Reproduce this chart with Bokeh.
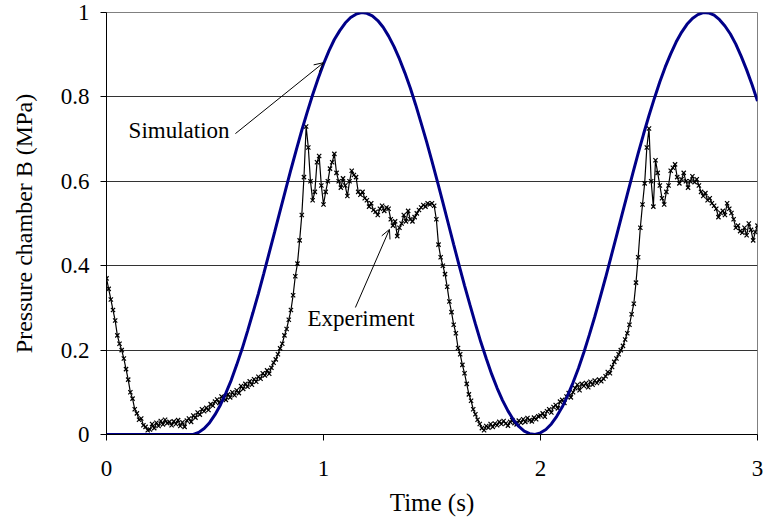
import numpy as np
from bokeh.plotting import figure
from bokeh.models import Range1d, Label, Arrow, OpenHead, FixedTicker, ColumnDataSource
from bokeh.embed import file_html
from bokeh.resources import INLINE

# Simulated chamber-B pressure (MPa), sampled every 0.025 s from 0 to 3 s
sim_pressure = [
    0.0, 0.0, 0.0, 0.0, 0.0, 0.0, 0.0, 0.0,
    0.0, 0.0, 0.0, 0.0, 0.0, 0.0, 0.0, 0.0,
    0.0, 0.005, 0.014, 0.028, 0.047, 0.070, 0.098, 0.129,
    0.165, 0.203, 0.245, 0.289, 0.334, 0.382, 0.431, 0.480,
    0.530, 0.579, 0.628, 0.675, 0.721, 0.764, 0.805, 0.843,
    0.878, 0.909, 0.936, 0.957, 0.975, 0.988, 0.996, 1.000,
    0.998, 0.992, 0.981, 0.965, 0.944, 0.919, 0.890, 0.857,
    0.821, 0.781, 0.738, 0.694, 0.647, 0.599, 0.550, 0.500,
    0.450, 0.401, 0.353, 0.307, 0.262, 0.219, 0.180, 0.143,
    0.110, 0.081, 0.056, 0.035, 0.019, 0.008, 0.002, 0.000,
    0.004, 0.012, 0.025, 0.043, 0.065, 0.092, 0.123, 0.157,
    0.195, 0.236, 0.279, 0.325, 0.372, 0.421, 0.470, 0.520,
    0.569, 0.618, 0.666, 0.712, 0.756, 0.797, 0.836, 0.871,
    0.902, 0.930, 0.953, 0.972, 0.986, 0.995, 1.000, 0.999,
    0.994, 0.983, 0.968, 0.949, 0.925, 0.896, 0.864, 0.829,
    0.790,
]
sim_time = np.linspace(0.0, 3.0, len(sim_pressure))

# Measured chamber-B pressure (MPa), sampled every 0.01 s from 0 to 3 s
exp_pressure = [
    0.370, 0.345, 0.320, 0.295, 0.270, 0.235, 0.215, 0.200, 0.180, 0.155,
    0.130, 0.100, 0.085, 0.060, 0.050, 0.035, 0.038, 0.022, 0.018, 0.010,
    0.012, 0.025, 0.015, 0.028, 0.020, 0.032, 0.024, 0.035, 0.027, 0.030,
    0.022, 0.031, 0.025, 0.034, 0.020, 0.029, 0.018, 0.033, 0.038, 0.030,
    0.045, 0.040, 0.052, 0.047, 0.060, 0.055, 0.063, 0.058, 0.072, 0.068,
    0.078, 0.083, 0.075, 0.090, 0.086, 0.082, 0.095, 0.088, 0.100, 0.093,
    0.105, 0.098, 0.115, 0.108, 0.120, 0.113, 0.126, 0.118, 0.131, 0.125,
    0.137, 0.132, 0.145, 0.140, 0.152, 0.144, 0.158, 0.170, 0.178, 0.190,
    0.204, 0.215, 0.235, 0.250, 0.272, 0.295, 0.330, 0.375, 0.405, 0.460,
    0.520, 0.610, 0.730, 0.680, 0.600, 0.555, 0.575, 0.645, 0.660, 0.590,
    0.545, 0.575, 0.600, 0.630, 0.645, 0.665, 0.620, 0.600, 0.585, 0.607,
    0.590, 0.565, 0.600, 0.625, 0.615, 0.610, 0.575, 0.568, 0.575, 0.560,
    0.555, 0.540, 0.548, 0.532, 0.528, 0.520, 0.535, 0.542, 0.530, 0.538,
    0.535, 0.510, 0.495, 0.505, 0.470, 0.490, 0.500, 0.520, 0.505, 0.530,
    0.510, 0.505, 0.515, 0.524, 0.532, 0.538, 0.544, 0.540, 0.548, 0.545,
    0.548, 0.542, 0.510, 0.450, 0.420, 0.400, 0.380, 0.350, 0.315, 0.290,
    0.260, 0.240, 0.205, 0.190, 0.165, 0.145, 0.120, 0.095, 0.080, 0.060,
    0.048, 0.035, 0.025, 0.015, 0.010, 0.020, 0.016, 0.025, 0.018, 0.026,
    0.022, 0.030, 0.025, 0.032, 0.026, 0.021, 0.030, 0.034, 0.027, 0.024,
    0.033, 0.028, 0.036, 0.030, 0.039, 0.034, 0.031, 0.040, 0.036, 0.043,
    0.045, 0.050, 0.042, 0.055, 0.060, 0.052, 0.065, 0.070, 0.062, 0.078,
    0.082, 0.075, 0.090, 0.098, 0.088, 0.100, 0.110, 0.118, 0.105, 0.120,
    0.115, 0.122, 0.112, 0.125, 0.118, 0.128, 0.122, 0.130, 0.126, 0.132,
    0.138, 0.148, 0.145, 0.160, 0.172, 0.180, 0.190, 0.200, 0.210, 0.225,
    0.240, 0.260, 0.285, 0.310, 0.360, 0.420, 0.490, 0.545, 0.595, 0.680,
    0.725, 0.600, 0.540, 0.650, 0.620, 0.590, 0.560, 0.545, 0.575, 0.590,
    0.625, 0.632, 0.640, 0.610, 0.595, 0.605, 0.620, 0.600, 0.585, 0.600,
    0.612, 0.598, 0.605, 0.590, 0.575, 0.565, 0.572, 0.555, 0.560, 0.548,
    0.542, 0.535, 0.515, 0.525, 0.530, 0.520, 0.548, 0.535, 0.525, 0.510,
    0.490, 0.495, 0.482, 0.478, 0.490, 0.472, 0.500, 0.485, 0.460, 0.480,
    0.495,
]
exp_time = np.linspace(0.0, 3.0, len(exp_pressure))

x_ticks = [0, 1, 2, 3]
y_ticks = [0, 0.2, 0.4, 0.6, 0.8, 1.0]
y_tick_labels = {0: "0", 0.2: "0.2", 0.4: "0.4", 0.6: "0.6", 0.8: "0.8", 1.0: "1"}

FONT = "Liberation Serif"

p = figure(
    width=764, height=527,
    x_range=Range1d(0, 3), y_range=Range1d(0, 1),
    output_backend="svg", toolbar_location=None,
    min_border_left=106, min_border_right=7,
    min_border_top=12, min_border_bottom=93,
)
p.background_fill_color = "white"
p.border_fill_color = "white"
p.outline_line_color = "#808080"
p.outline_line_width = 1

# axes
p.xaxis.ticker = FixedTicker(ticks=x_ticks)
p.yaxis.ticker = FixedTicker(ticks=y_ticks)
p.yaxis.major_label_overrides = y_tick_labels
for ax in (p.xaxis, p.yaxis):
    ax.axis_line_color = "black"
    ax.axis_line_width = 1
    ax.major_tick_line_color = "black"
    ax.major_tick_in = 0
    ax.major_tick_out = 6
    ax.minor_tick_line_color = None
    ax.major_label_text_font = FONT
    ax.major_label_text_font_size = "23px"
    ax.major_label_text_color = "black"
    ax.axis_label_text_font = FONT
    ax.axis_label_text_font_style = "normal"
    ax.axis_label_text_color = "black"
p.xaxis.axis_label = "Time (s)"
p.xaxis.axis_label_text_font_size = "25px"
p.xaxis.major_label_standoff = 20
p.xaxis.axis_label_standoff = 10
p.yaxis.axis_label = "Pressure chamber B (MPa)"
p.yaxis.axis_label_text_font_size = "24px"
p.yaxis.major_label_standoff = 11
p.yaxis.axis_label_standoff = 21

p.xgrid.grid_line_color = None
p.ygrid.grid_line_color = "#333333"
p.ygrid.grid_line_width = 1

# measured trace with small cross markers
exp_src = ColumnDataSource(dict(t=exp_time, p=exp_pressure))
p.line("t", "p", source=exp_src, line_color="black", line_width=1.2)
p.scatter("t", "p", source=exp_src, marker="x", size=6,
          line_color="black", line_width=1.2)

# simulated trace
p.line(sim_time, sim_pressure, line_color="#000088", line_width=3)

# annotations
p.add_layout(Label(x=0.567, y=0.72, text="Simulation", text_align="right",
                   text_baseline="middle", text_font=FONT,
                   text_font_size="23px", text_color="black"))
p.add_layout(Arrow(x_start=0.594, y_start=0.713, x_end=1.0, y_end=0.881,
                   line_color="black", line_width=1,
                   end=OpenHead(size=9, line_width=1, line_color="black")))
p.add_layout(Label(x=0.926, y=0.275, text="Experiment", text_align="left",
                   text_baseline="middle", text_font=FONT,
                   text_font_size="23px", text_color="black"))
p.add_layout(Arrow(x_start=1.147, y_start=0.301, x_end=1.304, y_end=0.486,
                   line_color="black", line_width=1,
                   end=OpenHead(size=9, line_width=1, line_color="black")))

open("out.html", "w").write(file_html(p, INLINE))
